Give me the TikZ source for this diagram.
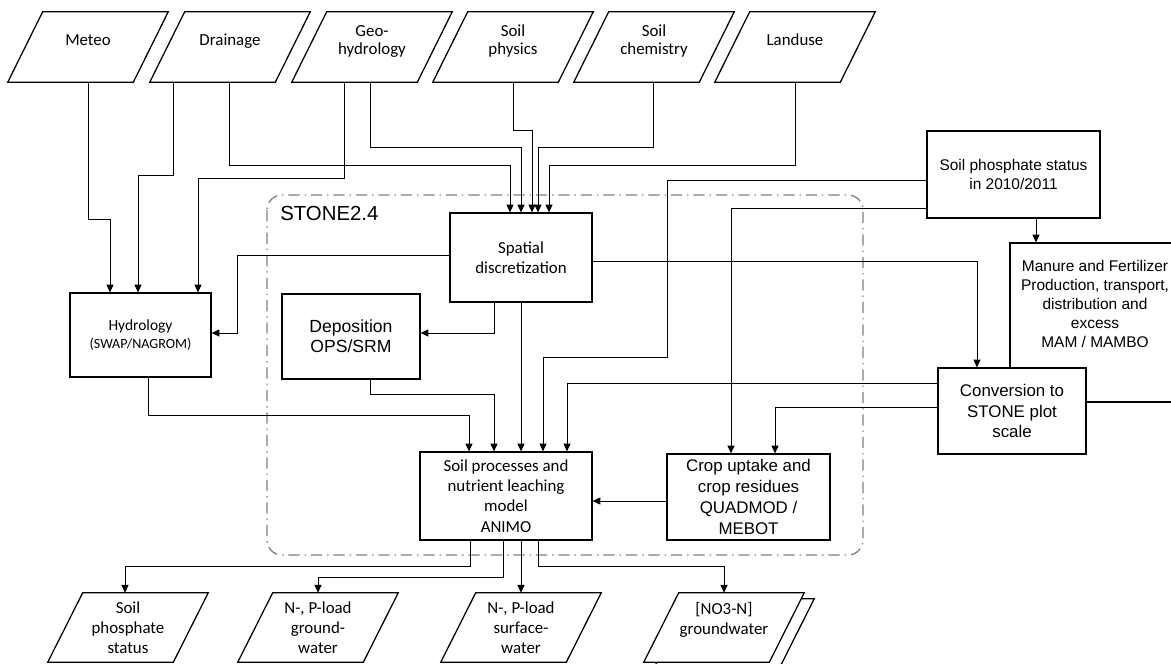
\documentclass[tikz,border=0pt]{standalone}
\usepackage{fontspec}
\usetikzlibrary{arrows.meta,calc,backgrounds}
\newfontfamily\calfont{Carlito}
\newfontfamily\arifont{Liberation Sans}
\newlength{\unitpx}
\setlength{\unitpx}{0.025cm}

\begin{document}
\begin{tikzpicture}[x=0.025cm,y=-0.025cm,
    data/.style={minimum width=125\unitpx, minimum height=70\unitpx, inner sep=1pt, align=center,
      font=\calfont\fontsize{12}{13}\selectfont},
    datashape/.style={draw, line width=0.9pt, fill=white},
    box/.style={draw, line width=0.9pt, fill=white, align=center, inner sep=1pt},
    cal/.style={font=\calfont\fontsize{12}{14.4}\selectfont},
    ari/.style={font=\arifont\fontsize{12}{14.8}\selectfont},
    link/.style={line width=0.7pt},
    arr/.style={link, -{Triangle[length=5.5pt,width=5pt]}},
    stone/.style={gray, line width=0.9pt, rounded corners=15\unitpx,
      dash pattern=on 8pt off 3.5pt on 1pt off 3.5pt}]
      \clip (0,0) rectangle (1171,664);
      % STONE frame
      \draw[stone] (267,195) rectangle (863,555);
      \node[anchor=west, inner sep=0pt, font=\arifont\fontsize{14.5}{17}\selectfont] (stn) at (280,213) {STONE2.4};
      % Inputs
      \node[data, text depth=0.36cm] (met) at (88,47) {Meteo};
      \node[data, text depth=0.36cm] (drn) at (230,47) {Drainage};
      \node[data, text depth=0.36cm] (geo) at (372,47) {Geo-\\hydrology};
      \node[data, text depth=0.36cm] (sph) at (513,47) {Soil\\physics};
      \node[data, text depth=0.36cm] (sch) at (654,47) {Soil\\chemistry};
      \node[data, text depth=0.36cm] (lnd) at (795,47) {Landuse};
      % Models
      \node[box, cal, minimum width=142\unitpx, minimum height=89\unitpx] (spat) at (521,257.5) {Spatial\\discretization};
      \node[box, minimum width=141\unitpx, minimum height=84\unitpx, font=\calfont\fontsize{11}{13}\selectfont] (hyd) at (140.5,335) {Hydrology\\{\fontsize{10}{12}\selectfont(SWAP/NAGROM)}};
      \node[box, minimum width=138\unitpx, minimum height=85\unitpx, font=\arifont\fontsize{12.5}{14.4}\selectfont] (dep) at (351,336.5) {Deposition\\OPS/SRM};
      \node[box, cal, minimum width=172\unitpx, minimum height=88\unitpx] (soil) at (506,496) {Soil processes and\\nutrient leaching\\model\\ANIMO};
      \node[box, ari, minimum width=163\unitpx, minimum height=86\unitpx] (crop) at (748.5,497) {Crop uptake and\\crop residues\\QUADMOD /\\MEBOT};
      \node[box, minimum width=173\unitpx, minimum height=87\unitpx, font=\arifont\fontsize{11}{13.5}\selectfont] (sps) at (1013.5,174.5) {Soil phosphate status\\in 2010/2011};
      \node[box, minimum width=170\unitpx, minimum height=159\unitpx] (man) at (1095,322.5) {};
      \node[anchor=north, inner sep=0pt, align=center, font=\arifont\fontsize{11}{13.6}\selectfont] (mantxt) at (1095,260) {Manure and Fertilizer\\Production, transport,\\distribution and\\excess\\MAM / MAMBO};
      \node[box, ari, minimum width=148\unitpx, minimum height=86\unitpx] (conv) at (1012,411) {Conversion to\\STONE plot\\scale};
      % Outputs
      \node[data, cal, minimum height=69\unitpx] (out1) at (128,627.5) {Soil\\phosphate\\status};
      \node[data, cal, minimum height=69\unitpx] (out2) at (318,627.5) {N-, P-load\\ground-\\water};
      \node[data, cal, minimum height=69\unitpx] (out3) at (521,627.5) {N-, P-load\\surface-\\water};
      \node[data, cal, minimum height=69\unitpx, text depth=0.45cm] (out4) at (724,627.5) {[NO3-N]\\groundwater};
      % Parallelograms behind the texts
      \begin{scope}[on background layer]
        \draw[datashape] ($(out4.south west)+(-7.5,6)$) -- ($(out4.south east)+(-7.5,6)$)
          -- ($(out4.north east)+(27.5,6)$) -- ($(out4.north west)+(27.5,6)$) -- cycle;
        \foreach \n in {met,drn,geo,sph,sch,lnd,out1,out2,out3,out4}
          \draw[datashape] ($(\n.south west)+(-17.5,0)$) -- ($(\n.south east)+(-17.5,0)$)
            -- ($(\n.north east)+(17.5,0)$) -- ($(\n.north west)+(17.5,0)$) -- cycle;
      \end{scope}
      % Inputs to hydrology and spatial discretization
      \draw[arr] (met.south -| 88,0) |- (110,219) -- (hyd.north -| 110,0);
      \draw[arr] (drn.south -| 173,0) |- (138,175) -- (hyd.north -| 138,0);
      \draw[arr] (geo.south -| 344,0) |- (198,178) -- (hyd.north -| 198,0);
      \draw[arr] (drn.south -| 229,0) |- (510,165) -- (spat.north -| 510,0);
      \draw[arr] (geo.south -| 370,0) |- (521,147) -- (spat.north -| 521,0);
      \draw[arr] (sph.south -| 513,0) |- (532,130) -- (spat.north -| 532,0);
      \draw[arr] (sch.south -| 653,0) |- (538,147) -- (spat.north -| 538,0);
      \draw[arr] (lnd.south -| 795,0) |- (549,165) -- (spat.north -| 549,0);
      % Spatial discretization to models
      \draw[arr] (spat.west |- 0,255) -| (237,333) -- (hyd.east |- 0,333);
      \draw[arr] (spat.south -| 494,0) |- (dep.east |- 0,333);
      \draw[arr] (spat.south -| 521,0) -- (soil.north -| 521,0);
      \draw[arr] (spat.east |- 0,261) -| (conv.north -| 977,0);
      % Into soil processes
      \draw[arr] (hyd.south -| 148,0) |- (469,415) -- (soil.north -| 469,0);
      \draw[arr] (dep.south -| 370,0) |- (494,394) -- (soil.north -| 494,0);
      \draw[arr] (sps.west |- 0,180) -| (667,357) -| (soil.north -| 543,0);
      \draw[arr] (conv.west |- 0,383) -| (soil.north -| 567,0);
      \draw[arr] (crop.west |- 0,501) -- (soil.east |- 0,501);
      % Into crop uptake and manure
      \draw[arr] (sps.west |- 0,208) -| (crop.north -| 731,0);
      \draw[arr] (conv.west |- 0,407) -| (crop.north -| 775,0);
      \draw[arr] (sps.south -| 1036,0) -- (man.north -| 1036,0);
      % Outputs
      \draw[arr] (soil.south -| 470,0) |- (125,566) -- (out1.north -| 125,0);
      \draw[arr] (soil.south -| 503,0) |- (318,577) -- (out2.north -| 318,0);
      \draw[arr] (soil.south -| 521,0) -- (out3.north -| 521,0);
      \draw[arr] (soil.south -| 538,0) |- (724,566) -- (out4.north -| 724,0);
    \end{tikzpicture}
\end{document}
